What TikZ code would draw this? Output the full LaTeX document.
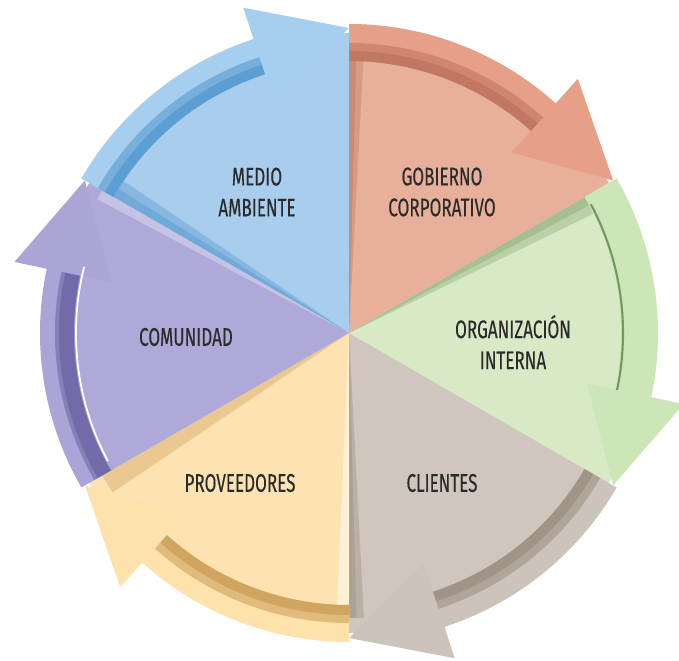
\documentclass[tikz,border=0pt]{standalone}
\usepackage{fontspec}
\setmainfont{Fira Sans}[FakeStretch=0.67,FakeBold=0.3]
\usepackage{tikz}
\usetikzlibrary{positioning}
\definecolor{salmon}{RGB}{232,176,155}\definecolor{salmonA}{RGB}{231,160,136}\definecolor{salmonD}{RGB}{176,104,84}
\definecolor{leaf}{RGB}{216,234,197}\definecolor{leafA}{RGB}{205,230,183}\definecolor{leafD}{RGB}{118,150,98}
\definecolor{stone}{RGB}{207,199,190}\definecolor{stoneA}{RGB}{204,196,186}\definecolor{stoneD}{RGB}{140,128,112}
\definecolor{sand}{RGB}{254,227,178}\definecolor{sandA}{RGB}{253,226,172}\definecolor{sandD}{RGB}{190,140,64}
\definecolor{lilac}{RGB}{174,169,216}\definecolor{lilacA}{RGB}{170,165,214}\definecolor{lilacD}{RGB}{90,84,150}
\definecolor{sky}{RGB}{169,205,236}\definecolor{skyA}{RGB}{166,206,238}\definecolor{skyD}{RGB}{62,138,200}
\definecolor{txtgray}{RGB}{43,43,43}

\begin{document}
\begin{tikzpicture}[x=0.02cm,y=0.02cm,
	lbl/.style={font=\fontsize{14.5}{17.6}\selectfont, text=txtgray, align=center},
	shade/.style={opacity=.3}, band/.style={opacity=.45}]
	\useasboundingbox (-349,-328) rectangle (330,333);
	% sectors
	\fill[salmon] (0,0) -- (90:300) arc[start angle=90,end angle=30,radius=300] -- cycle; \fill[leaf] (0,0) -- (30:300) arc[start angle=30,end angle=-30,radius=300] -- cycle; \fill[stone] (0,0) -- (-30:300) arc[start angle=-30,end angle=-90,radius=300] -- cycle;
	\fill[sand] (0,0) -- (-90:300) arc[start angle=-90,end angle=-150,radius=300] -- cycle; \fill[lilac] (0,0) -- (210:300) arc[start angle=210,end angle=150,radius=300] -- cycle; \fill[sky] (0,0) -- (150:300) arc[start angle=150,end angle=90,radius=300] -- cycle;
	% edge shadows
	\fill[salmonD,shade] (0,0) -- (90:285) arc[start angle=90,end angle=87,radius=285] -- cycle; \fill[salmonD,shade] (0,0) -- (90:285) arc[start angle=90,end angle=88.5,radius=285] -- cycle;
	\fill[leafD,shade] (0,0) -- (30:285) arc[start angle=30,end angle=26,radius=285] -- cycle; \fill[leafD,shade] (0,0) -- (30:285) arc[start angle=30,end angle=28,radius=285] -- cycle;
	\fill[stoneD,shade] (0,0) -- (-90:285) arc[start angle=-90,end angle=-87,radius=285] -- cycle; \fill[stoneD,shade] (0,0) -- (-90:285) arc[start angle=-90,end angle=-88.5,radius=285] -- cycle;
	\fill[sandD,shade] (0,0) -- (210:285) arc[start angle=210,end angle=214,radius=285] -- cycle; \fill[skyD,shade] (0,0) -- (150:285) arc[start angle=150,end angle=146,radius=285] -- cycle; \fill[skyD,shade] (0,0) -- (150:285) arc[start angle=150,end angle=148,radius=285] -- cycle;
	\fill[white,opacity=.5] (0,0) -- (-90:285) arc[start angle=-90,end angle=-92.5,radius=285] -- cycle; \fill[white,opacity=.3] (0,0) -- (150:285) arc[start angle=150,end angle=152,radius=285] -- cycle;
	% arrows
	\fill[salmonA] (90:309) arc[start angle=90,end angle=48,radius=309] -- (48:342) -- (30:305) -- (48:243) -- (48:272) arc[start angle=48,end angle=90,radius=272] -- cycle; \fill[salmonD,band] (90:290) arc[start angle=90,end angle=48,radius=290] -- (48:272) arc[start angle=48,end angle=90,radius=272] -- cycle; \fill[salmonD,band] (90:282) arc[start angle=90,end angle=48,radius=282] -- (48:272) arc[start angle=48,end angle=90,radius=272] -- cycle;
	\fill[leafA] (30:309) arc[start angle=30,end angle=-12,radius=309] -- (-12:342) -- (-30:305) -- (-12:243) -- (-12:272) arc[start angle=-12,end angle=30,radius=272] -- cycle; \draw[leafD,line width=1.2pt] (28:274) arc[start angle=28,end angle=-12,radius=274];
	\fill[stoneA] (-30:309) arc[start angle=-30,end angle=-72,radius=309] -- (-72:342) -- (-90:305) -- (-72:243) -- (-72:272) arc[start angle=-72,end angle=-30,radius=272] -- cycle; \fill[stoneD,band] (-30:290) arc[start angle=-30,end angle=-72,radius=290] -- (-72:272) arc[start angle=-72,end angle=-30,radius=272] -- cycle; \fill[stoneD,band] (-30:282) arc[start angle=-30,end angle=-72,radius=282] -- (-72:272) arc[start angle=-72,end angle=-30,radius=272] -- cycle;
	\fill[sandA] (270:309) arc[start angle=270,end angle=228,radius=309] -- (228:342) -- (210:305) -- (228:243) -- (228:272) arc[start angle=228,end angle=270,radius=272] -- cycle; \fill[sandD,band] (270:290) arc[start angle=270,end angle=228,radius=290] -- (228:272) arc[start angle=228,end angle=270,radius=272] -- cycle; \fill[sandD,band] (270:282) arc[start angle=270,end angle=228,radius=282] -- (228:272) arc[start angle=228,end angle=270,radius=272] -- cycle;
	\fill[lilacA] (210:309) arc[start angle=210,end angle=168,radius=309] -- (168:342) -- (150:305) -- (168:243) -- (168:272) arc[start angle=168,end angle=210,radius=272] -- cycle; \fill[lilacD,band] (210:294) arc[start angle=210,end angle=168,radius=294] -- (168:275) arc[start angle=168,end angle=210,radius=275] -- cycle; \fill[lilacD,band] (210:290) arc[start angle=210,end angle=168,radius=290] -- (168:275) arc[start angle=168,end angle=210,radius=275] -- cycle; \draw[white,line width=1pt] (208:273) arc[start angle=208,end angle=166,radius=273];
	\fill[skyA] (150:309) arc[start angle=150,end angle=108,radius=309] -- (108:342) -- (90:305) -- (108:243) -- (108:272) arc[start angle=108,end angle=150,radius=272] -- cycle; \fill[skyD,band] (150:290) arc[start angle=150,end angle=108,radius=290] -- (108:272) arc[start angle=108,end angle=150,radius=272] -- cycle; \fill[skyD,band] (150:282) arc[start angle=150,end angle=108,radius=282] -- (108:272) arc[start angle=108,end angle=150,radius=272] -- cycle;
	% labels
	\node[lbl] (medio) at (-92,141) {MEDIO\\AMBIENTE}; \node[lbl] (gobierno) at (93,141) {GOBIERNO\\CORPORATIVO}; \node[lbl] (organiz) at (164,-9) {ORGANIZACIÓN\\INTERNA};
	\node[lbl] (comunidad) at (-163,-4) {COMUNIDAD}; \node[lbl] (proveed) at (-109,-150) {PROVEEDORES}; \node[lbl] (clientes) at (93,-150) {CLIENTES};
\end{tikzpicture}
\end{document}
